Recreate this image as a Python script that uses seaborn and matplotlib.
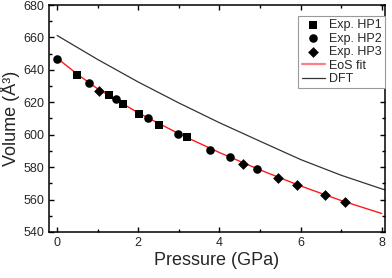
import matplotlib
matplotlib.use("Agg")
import matplotlib.pyplot as plt
from matplotlib.ticker import MultipleLocator
import seaborn as sns

# experimental runs (pressure in GPa, volume in A^3)
hp1_p = [0.48, 1.27, 1.63, 2.02, 2.51, 3.19]
hp1_v = [636.9, 624.5, 619.1, 613.0, 606.1, 598.5]
hp2_p = [0.0, 0.79, 1.45, 2.23, 2.97, 3.78, 4.25, 4.92]
hp2_v = [646.9, 632.1, 622.2, 610.0, 600.6, 590.7, 586.3, 578.7]
hp3_p = [1.03, 4.59, 5.44, 5.92, 6.60, 7.09]
hp3_v = [627.2, 581.8, 573.3, 569.0, 563.0, 558.7]

# EoS fit curve
eos_p = [0, 0.5, 1, 1.5, 2, 3, 4, 5, 6, 7, 8]
eos_v = [647.2, 637.3, 628.3, 620.8, 613.5, 600.6, 589.0, 578.3, 568.4, 559.4, 551.4]

# DFT curve
dft_p = [0, 1, 2, 3, 4, 5, 6, 7, 8, 8.1]
dft_v = [661.2, 646.4, 632.5, 619.6, 607.4, 596.0, 584.7, 575.0, 566.6, 565.8]

sns.set_style("ticks")
plt.rcParams['font.family'] = ['Liberation Sans', 'DejaVu Sans']

fig = plt.figure(figsize=(3.92, 2.78), dpi=100)
ax = fig.add_axes([0.125, 0.1655, 0.857, 0.8165])

sns.lineplot(x=eos_p, y=eos_v, ax=ax, color='#ff1a1a', lw=1.0, label='EoS fit', zorder=2)
sns.lineplot(x=dft_p, y=dft_v, ax=ax, color='#333333', lw=0.9, label='DFT', zorder=2)
sns.scatterplot(x=hp1_p, y=hp1_v, ax=ax, marker='s', s=30, color='black', edgecolor='black',
                linewidth=0, label='Exp. HP1', zorder=3)
sns.scatterplot(x=hp2_p, y=hp2_v, ax=ax, marker='o', s=38, color='black', edgecolor='black',
                linewidth=0, label='Exp. HP2', zorder=3)
sns.scatterplot(x=hp3_p, y=hp3_v, ax=ax, marker='D', s=30, color='black', edgecolor='black',
                linewidth=0, label='Exp. HP3', zorder=3)

ax.set_xlim(-0.2, 8.08)
ax.set_ylim(540, 680)
ax.xaxis.set_major_locator(MultipleLocator(2))
ax.xaxis.set_minor_locator(MultipleLocator(1))
ax.yaxis.set_major_locator(MultipleLocator(20))
ax.yaxis.set_minor_locator(MultipleLocator(10))
ax.tick_params(which='both', direction='in', top=True, right=True, labelsize=9, width=1, color='black')
ax.tick_params(which='major', length=3.5)
ax.tick_params(which='minor', length=2)
for sp in ax.spines.values():
    sp.set_linewidth(1.1)
    sp.set_color('black')

ax.set_xlabel('Pressure (GPa)', fontsize=13, labelpad=2)
ax.set_ylabel('Volume (Å³)', fontsize=13, labelpad=2)

h, l = ax.get_legend_handles_labels()
order = [2, 3, 4, 0, 1]
leg = ax.legend([h[i] for i in order], [l[i] for i in order], loc='upper right',
                bbox_to_anchor=(1.0, 0.952), borderaxespad=0, fontsize=9, frameon=True,
                fancybox=False, edgecolor='#999999', framealpha=1, labelspacing=0.12,
                handlelength=1.9, handletextpad=0.3, borderpad=0.25)
leg.get_frame().set_linewidth(0.8)
leg.legend_handles[3].set_color('#ff8080')
leg.legend_handles[3].set_linewidth(1.6)

fig.savefig('out.png', dpi=100)
